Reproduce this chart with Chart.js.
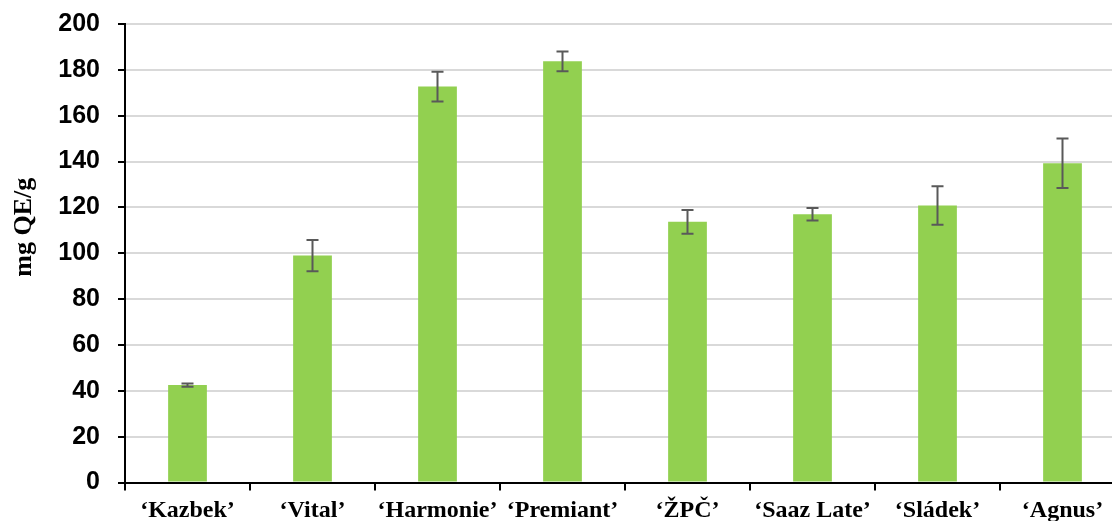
<!DOCTYPE html>
<html>
<head>
<meta charset="utf-8">
<script src="https://cdn.jsdelivr.net/npm/chart.js@4"></script>
<style>
  html, body { margin: 0; padding: 0; background: #fff; overflow: hidden; }
  #wrap { width: 1140px; height: 521px; }
</style>
</head>
<body>
<div id="wrap"><canvas id="chart" width="1140" height="521"></canvas></div>
<script>
const cultivars = ['‘Kazbek’', '‘Vital’', '‘Harmonie’', '‘Premiant’', '‘ŽPČ’', '‘Saaz Late’', '‘Sládek’', '‘Agnus’'];
const flavonoids = [42.5, 99, 172.7, 183.7, 113.7, 117, 120.8, 139.3];
const sdev = [0.7, 6.8, 6.5, 4.3, 5.2, 2.7, 8.4, 10.8];

//draws the error bars on top of the bars, using the y scale
const errorBars = {
  id: 'errorBars',
  afterDatasetsDraw(chart) {
    const ctx = chart.ctx;
    const y = chart.scales.y;
    const meta = chart.getDatasetMeta(0);
    ctx.save();
    ctx.strokeStyle = '#595959';
    ctx.lineWidth = 2;
    meta.data.forEach((bar, i) => {
      const top = y.getPixelForValue(flavonoids[i] + sdev[i]);
      const bot = y.getPixelForValue(flavonoids[i] - sdev[i]);
      ctx.beginPath();
      ctx.moveTo(bar.x, top);
      ctx.lineTo(bar.x, bot);
      ctx.moveTo(bar.x - 6, top);
      ctx.lineTo(bar.x + 6, top);
      ctx.moveTo(bar.x - 6, bot);
      ctx.lineTo(bar.x + 6, bot);
      ctx.stroke();
    });
    ctx.restore();
  }
};

new Chart(document.getElementById('chart'), {
  type: 'bar',
  data: {
    labels: cultivars,
    datasets: [{
      data: flavonoids,
      backgroundColor: '#92D050',
      categoryPercentage: 1,
      barPercentage: 0.31
    }]
  },
  options: {
    responsive: false,
    animation: false,
    layout: { padding: { top: 24, right: 15, left: 0, bottom: 0 } },
    plugins: {
      legend: { display: false },
      tooltip: { enabled: false }
    },
    scales: {
      x: {
        afterFit: (axis) => { axis.height = 38.5; },
        border: { color: '#000', width: 2 },
        grid: {
          drawOnChartArea: false,
          tickColor: '#000',
          tickLength: 8,
          lineWidth: 2
        },
        ticks: {
          autoSkip: false,
          maxRotation: 0,
          padding: 6,
          color: '#000',
          font: { family: '"Liberation Serif", "Times New Roman", serif', size: 24, weight: 'bold' }
        }
      },
      y: {
        min: 0,
        max: 200,
        afterFit: (axis) => {
          axis.width = 125;
          // let the layout padding alone decide where the top gridline sits
          axis.paddingTop = 0;
          axis.paddingBottom = 0;
        },
        border: { color: '#000', width: 2 },
        grid: {
          color: '#d9d9d9',
          lineWidth: 2,
          tickColor: '#000',
          tickLength: 7
        },
        ticks: {
          stepSize: 20,
          padding: 18,
          color: '#000',
          font: { family: '"Liberation Sans", Arial, sans-serif', size: 25, weight: 'bold' }
        },
        title: {
          display: true,
          text: '\u00a0\u00a0\u00a0\u00a0\u00a0\u00a0\u00a0\u00a0mg QE/g',
          color: '#000',
          padding: { top: 9, bottom: 0 },
          font: { family: '"Liberation Serif", "Times New Roman", serif', size: 26, weight: 'bold' }
        }
      }
    }
  },
  plugins: [errorBars]
});
</script>
</body>
</html>
